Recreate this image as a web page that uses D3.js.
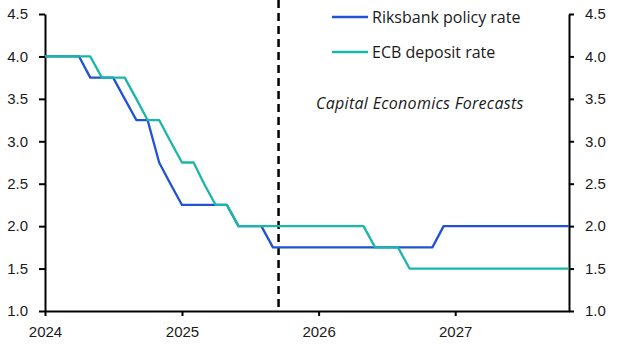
<!DOCTYPE html>
<html>
<head>
<meta charset="utf-8">
<script src="https://cdn.jsdelivr.net/npm/d3@7"></script>
<style>
  body { margin: 0; background: #fff; }
  svg { display: block; font-family: "Open Sans", "Noto Sans", sans-serif; }
  .axis path, .axis line { stroke: #000; stroke-width: 2; }
  .axis text { font-size: 15px; fill: #1a1a1a; }
</style>
</head>
<body>
<div id="root"></div>
<script>
// monthly observations, Jan 2024 - Nov 2027
var months = d3.timeMonth.range(new Date(2024, 0, 1), new Date(2027, 11, 1));

var riksbank = [
  4.0, 4.0, 4.0, 4.0, 3.75, 3.75, 3.75, 3.5, 3.25, 3.25, 2.75, 2.5,      // 2024
  2.25, 2.25, 2.25, 2.25, 2.25, 2.0, 2.0, 2.0, 1.75, 1.75, 1.75, 1.75,  // 2025
  1.75, 1.75, 1.75, 1.75, 1.75, 1.75, 1.75, 1.75, 1.75, 1.75, 1.75, 2.0, // 2026
  2.0, 2.0, 2.0, 2.0, 2.0, 2.0, 2.0, 2.0, 2.0, 2.0, 2.0                 // 2027
];
var ecb = [
  4.0, 4.0, 4.0, 4.0, 4.0, 3.75, 3.75, 3.75, 3.5, 3.25, 3.25, 3.0,      // 2024
  2.75, 2.75, 2.5, 2.25, 2.25, 2.0, 2.0, 2.0, 2.0, 2.0, 2.0, 2.0,        // 2025
  2.0, 2.0, 2.0, 2.0, 2.0, 1.75, 1.75, 1.75, 1.5, 1.5, 1.5, 1.5,         // 2026
  1.5, 1.5, 1.5, 1.5, 1.5, 1.5, 1.5, 1.5, 1.5, 1.5, 1.5                 // 2027
];
var seriesNames = ["Riksbank policy rate", "ECB deposit rate"];
var seriesColors = ["#2152d6", "#18b7a8"];
var yTicks = [1.0, 1.5, 2.0, 2.5, 3.0, 3.5, 4.0, 4.5];
var xTicks = [new Date(2024, 0, 1), new Date(2025, 0, 1), new Date(2026, 0, 1), new Date(2027, 0, 1)];
var forecastStart = new Date(2025, 8, 16);
var forecastLabel = "Capital Economics Forecasts";

var width = 619, height = 354;
var margin = {top: 14, right: 50, bottom: 43, left: 45};

var svg = d3.select("#root").append("svg")
    .attr("width", width)
    .attr("height", height);

var x = d3.scaleTime()
    .domain([months[0], months[months.length - 1]])
    .range([margin.left, width - margin.right]);
var y = d3.scaleLinear()
    .domain([1, 4.5])
    .range([height - margin.bottom, margin.top]);

// axes
svg.append("g")
    .attr("class", "axis")
    .attr("transform", "translate(" + margin.left + ",0)")
    .call(d3.axisLeft(y).tickValues(yTicks).tickFormat(d3.format(".1f"))
      .tickSize(6).tickSizeOuter(0).tickPadding(11));

svg.append("g")
    .attr("class", "axis")
    .attr("transform", "translate(" + (width - margin.right) + ",0)")
    .call(d3.axisRight(y).tickValues(yTicks).tickFormat(d3.format(".1f"))
      .tickSize(5).tickSizeOuter(0).tickPadding(11));

svg.append("g")
    .attr("class", "axis")
    .attr("transform", "translate(0," + (height - margin.bottom) + ")")
    .call(d3.axisBottom(x).tickValues(xTicks).tickFormat(d3.timeFormat("%Y"))
      .tickSize(5).tickSizeOuter(0).tickPadding(10));

// forecast divider
svg.append("line")
    .attr("x1", x(forecastStart)).attr("x2", x(forecastStart))
    .attr("y1", 0).attr("y2", height - margin.bottom)
    .attr("stroke", "#000")
    .attr("stroke-width", 2.5)
    .attr("stroke-dasharray", "8,5");

// series lines
var line = d3.line()
    .x(function(d, i) { return x(months[i]); })
    .y(function(d) { return y(d); });

[riksbank, ecb].forEach(function(values, k) {
  svg.append("path")
    .datum(values)
    .attr("fill", "none")
    .attr("stroke", seriesColors[k])
    .attr("stroke-width", 2.3)
    .attr("stroke-linejoin", "round")
    .attr("d", line);
});

// legend
var legend = svg.append("g").attr("transform", "translate(332,17)");
seriesNames.forEach(function(name, k) {
  var g = legend.append("g").attr("transform", "translate(0," + (k * 35) + ")");
  g.append("line")
    .attr("x1", 0).attr("x2", 36)
    .attr("stroke", seriesColors[k])
    .attr("stroke-width", 2.3);
  g.append("text")
    .attr("x", 40)
    .attr("dy", "0.35em")
    .style("font-size", "16px")
    .attr("fill", "#1a1a1a")
    .text(name);
});

svg.append("text")
    .attr("x", 316)
    .attr("y", 103)
    .attr("dy", "0.35em")
    .style("font-size", "16px")
    .style("font-style", "italic")
    .style("letter-spacing", "0.3px")
    .attr("fill", "#1a1a1a")
    .text(forecastLabel);
</script>
</body>
</html>
